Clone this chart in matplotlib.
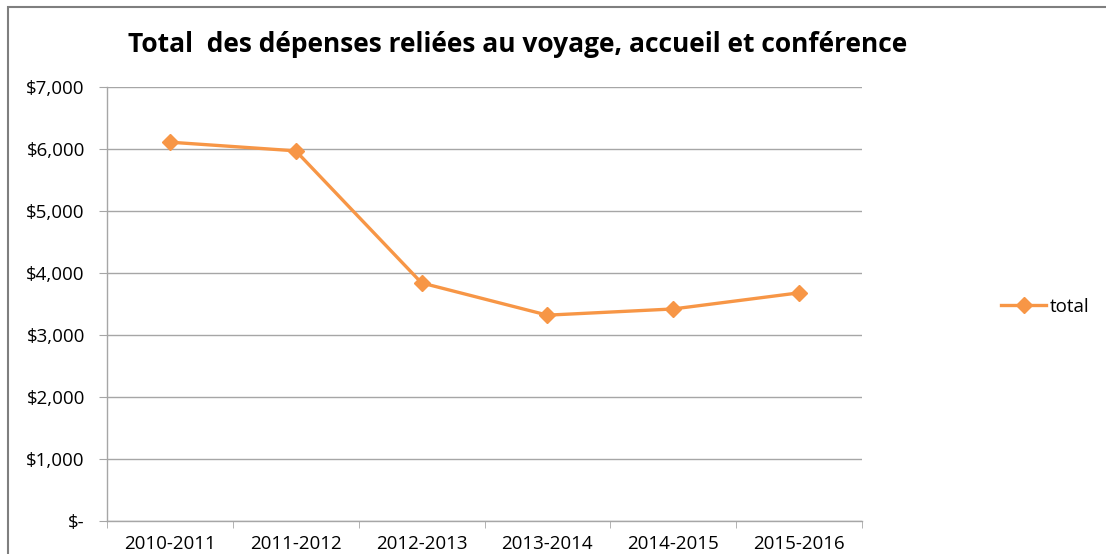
import matplotlib.pyplot as plt
from matplotlib.patches import Rectangle
from matplotlib.ticker import FuncFormatter

# données
periodes = ['2010-2011', '2011-2012', '2012-2013', '2013-2014', '2014-2015', '2015-2016']
total = [6110, 5970, 3840, 3320, 3420, 3680]
yticks = [0, 1000, 2000, 3000, 4000, 5000, 6000, 7000]

orange = '#F79646'
gris = '#A6A6A6'
plt.rcParams['font.family'] = ['Open Sans', 'DejaVu Sans']

W, H = 1106, 554
fig = plt.figure(figsize=(W / 100, H / 100), dpi=100)
ax = fig.add_axes([107 / W, 1 - 521 / H, (862 - 107) / W, (521 - 87) / H])

# cadre du graphique (style Excel)
fig.patches.append(Rectangle((8 / W, -0.1), 1.2, 1 - 7 / H + 0.1, transform=fig.transFigure,
                             fill=False, edgecolor='#7F7F7F', linewidth=1.5))

x = range(len(periodes))
ax.plot(x, total, color=orange, linewidth=2.4, marker='D', markersize=8.5, label='total', zorder=3)

ax.set_xlim(-0.5, len(periodes) - 0.5)
ax.set_ylim(0, 7000)
ax.set_yticks(yticks)
ax.yaxis.set_major_formatter(FuncFormatter(lambda v, p: '$-' if v == 0 else '${:,.0f}'.format(v)))
ax.set_xticks(x)
ax.set_xticklabels(periodes)
ax.set_xticks([i - 0.5 for i in range(len(periodes) + 1)], minor=True)
ax.tick_params(axis='x', which='major', length=0, pad=10, labelsize=13.5, colors='black')
ax.tick_params(axis='x', which='minor', length=5, color=gris)
ax.tick_params(axis='y', length=6, color=gris, pad=10, labelsize=13.5, labelcolor='black')

ax.grid(axis='y', color=gris, linewidth=1)
ax.set_axisbelow(True)
for s in ['top', 'right']:
    ax.spines[s].set_visible(False)
for s in ['left', 'bottom']:
    ax.spines[s].set_color(gris)
    ax.spines[s].set_linewidth(1)

fig.text(518 / W, 1 - 45 / H, 'Total  des dépenses reliées au voyage, accueil et conférence',
         ha='center', va='center', fontsize=19, fontweight='bold')

fig.legend(loc='center left', bbox_to_anchor=(1001 / W, 1 - 307 / H), frameon=False,
           fontsize=13.5, handlelength=2.4, handletextpad=0.2, borderaxespad=0, borderpad=0)

fig.savefig('out.png', dpi=100)
